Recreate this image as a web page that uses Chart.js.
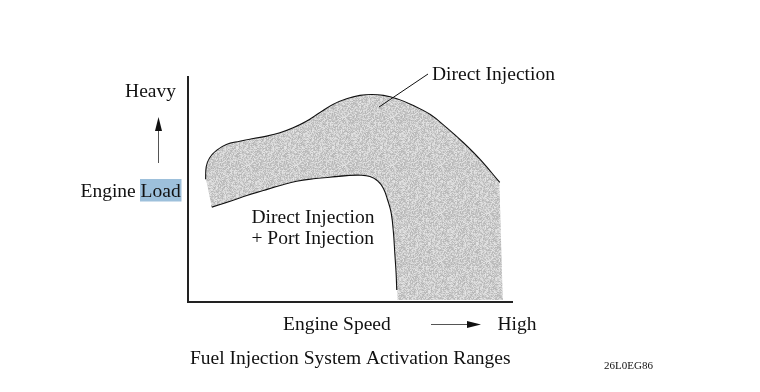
<!DOCTYPE html>
<html>
<head>
<meta charset="utf-8">
<script src="https://cdn.jsdelivr.net/npm/chart.js@4.4.1/dist/chart.umd.min.js"></script>
<style>
html, body { margin: 0; padding: 0; background: #fff; }
#chart { display: block; }
</style>
</head>
<body>
<canvas id="chart" width="760" height="392"></canvas>
<script>
// engine speed (0-100) / engine load (0-100)
const upperSpeed = [5.6, 5.8, 6.8, 8.9, 11.9, 16.0, 20.2, 24.3, 28.4, 32.5, 36.6, 40.7, 44.8, 49.0, 53.1, 56.7, 60.3, 64.4, 69.5, 74.7, 79.8, 85.0, 90.1, 96.1];
const upperLoad  = [54.5, 60.1, 63.9, 67.2, 69.8, 71.2, 72.4, 73.5, 75.0, 77.2, 80.1, 83.9, 87.6, 90.1, 91.6, 92.0, 91.6, 90.1, 87.1, 83.1, 77.2, 70.5, 63.1, 53.0];

const lowerSpeed = [7.3, 13.0, 18.1, 23.2, 28.4, 33.5, 38.7, 43.8, 49.0, 53.1, 56.2, 58.7, 60.5, 61.8, 62.9, 63.6, 64.0, 64.4, 64.6];
const lowerLoad  = [42.4, 45.0, 47.6, 49.8, 52.0, 53.9, 55.0, 55.7, 56.4, 56.6, 56.0, 53.9, 50.5, 45.3, 39.4, 30.5, 21.6, 12.8, 5.3];

// right and bottom edge of the shaded band (no outline there)
const edgeSpeed = [97.2, 64.7];
const edgeLoad  = [0.9, 0.9];

function toPoints(xs, ys) {
    return xs.map(function(x, i) { return { x: x, y: ys[i] }; });
}

const upperPts = toPoints(upperSpeed, upperLoad);
const lowerPts = toPoints(lowerSpeed, lowerLoad);
const edgePts = toPoints(edgeSpeed, edgeLoad);

// closed outline for the fill; doubled points keep the corners sharp
const bandPts = [].concat(
    upperPts, [upperPts[upperPts.length - 1]],
    [edgePts[0], edgePts[0], edgePts[1], edgePts[1]],
    [lowerPts[lowerPts.length - 1]], lowerPts.slice().reverse()
);

function speckle() {
    var size = 48;
    var cv = document.createElement('canvas');
    cv.width = cv.height = size;
    var g = cv.getContext('2d');
    var img = g.createImageData(size, size);
    for (var j = 0; j < size; j++) {
        for (var i = 0; i < size; i++) {
            var h = Math.imul(i + 1, 73856093) ^ Math.imul(j + 1, 19349663);
            h = Math.imul(h ^ (h >>> 15), 2246822507);
            h = (h ^ (h >>> 13)) >>> 0;
            var v = 180 + (h % 50);
            var k = (j * size + i) * 4;
            img.data[k] = img.data[k + 1] = img.data[k + 2] = v;
            img.data[k + 3] = 255;
        }
    }
    g.putImageData(img, 0, 0);
    return g.createPattern(cv, 'repeat');
}

const serif = '"Liberation Serif", "Times New Roman", serif';

const labelsPlugin = {
    id: 'sketchLabels',
    afterDraw: function(chart) {
        var c = chart.ctx;
        c.save();
        c.fillStyle = '#111';
        c.strokeStyle = '#111';
        c.textBaseline = 'alphabetic';
        c.font = '19.5px ' + serif;

        // highlight behind "Load"
        c.fillStyle = '#9dc0db';
        c.fillRect(140, 179, 41.5, 22.5);
        c.fillStyle = '#111';

        c.textAlign = 'right';
        c.fillText('Heavy', 176, 97);
        c.textAlign = 'left';
        c.fillText('Engine Load', 80.5, 196.5);
        c.fillText('Engine Speed', 283, 330);
        c.fillText('High', 497.5, 330);
        c.fillText('Direct Injection', 432, 80);
        c.fillText('Direct Injection', 251.5, 222.5);
        c.fillText('+ Port Injection', 251.5, 243.5);
        c.fillText('Fuel Injection System Activation Ranges', 190, 363.5);

        c.font = '11px ' + serif;
        c.fillText('26L0EG86', 604, 369);

        // leader line to the band
        c.lineWidth = 1;
        c.beginPath();
        c.moveTo(428, 74);
        c.lineTo(379, 107);
        c.stroke();

        // up arrow (load)
        c.strokeStyle = '#555';
        c.beginPath();
        c.moveTo(158.5, 163);
        c.lineTo(158.5, 128);
        c.stroke();
        c.beginPath();
        c.moveTo(158.5, 117);
        c.lineTo(162, 131);
        c.lineTo(155, 131);
        c.closePath();
        c.fill();

        // right arrow (speed)
        c.beginPath();
        c.moveTo(431, 324.5);
        c.lineTo(469, 324.5);
        c.stroke();
        c.beginPath();
        c.moveTo(481, 324.5);
        c.lineTo(467, 321);
        c.lineTo(467, 328);
        c.closePath();
        c.fill();

        c.restore();
    }
};

const ctx = document.getElementById('chart').getContext('2d');
new Chart(ctx, {
    type: 'line',
    data: {
        datasets: [
            { data: bandPts, fill: 'shape', backgroundColor: speckle(), borderColor: 'rgba(0,0,0,0)', borderWidth: 0, pointRadius: 0, tension: 0.4 },
            { data: upperPts, fill: false, borderColor: '#111', borderWidth: 2.2, pointRadius: 0, tension: 0.4 },
            { data: lowerPts, fill: false, borderColor: '#111', borderWidth: 2.2, pointRadius: 0, tension: 0.4 }
        ]
    },
    options: {
        responsive: false,
        animation: false,
        events: [],
        layout: { padding: { left: 188, right: 248, top: 77, bottom: 90 } },
        plugins: { legend: { display: false }, tooltip: { enabled: false } },
        scales: {
            x: { type: 'linear', min: 0, max: 100, ticks: { display: false }, grid: { display: false, drawTicks: false }, border: { display: true, color: '#222', width: 2 } },
            y: { type: 'linear', min: 0, max: 100, ticks: { display: false }, grid: { display: false, drawTicks: false }, border: { display: true, color: '#222', width: 2 } }
        }
    },
    plugins: [labelsPlugin]
});
</script>
</body>
</html>
